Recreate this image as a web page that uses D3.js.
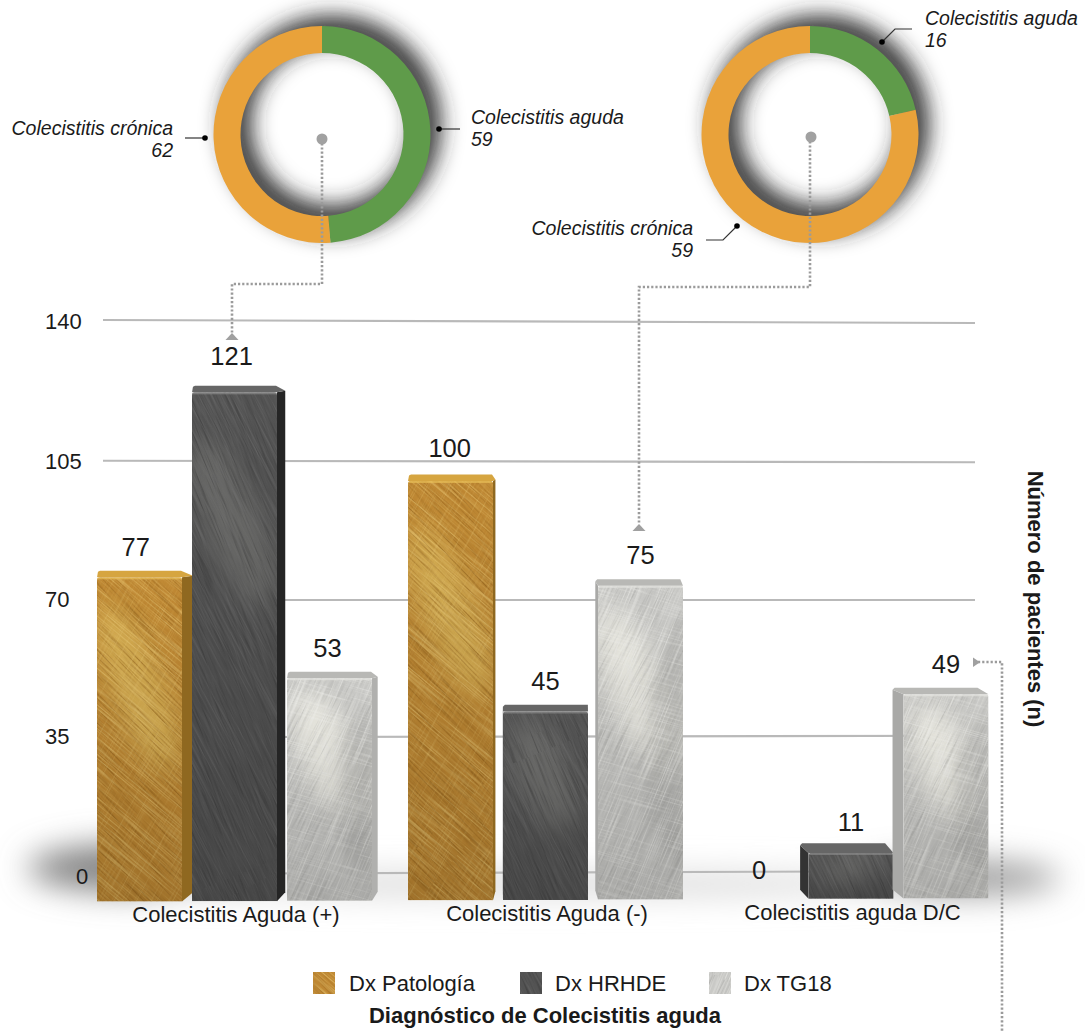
<!DOCTYPE html>
<html>
<head>
<meta charset="utf-8">
<script src="https://cdn.jsdelivr.net/npm/d3@7/dist/d3.min.js"></script>
<style>
  html, body { margin: 0; padding: 0; background: #fff; }
  svg { display: block; }
  text { font-family: "Liberation Sans", Arial, sans-serif; fill: #1a1a1a; }
</style>
</head>
<body>
<svg id="chart" width="1085" height="1032"></svg>
<script>
// Diagnostic groups and the patient counts per diagnostic method
const categories = ["Colecistitis Aguda (+)", "Colecistitis Aguda (-)", "Colecistitis aguda D/C"];
const seriesNames = ["Dx Patología", "Dx HRHDE", "Dx TG18"];
const patologia = [77, 100, 0];
const hrhde = [121, 45, 11];
const tg18 = [53, 75, 49];
const yTicks = [0, 35, 70, 105, 140];

// Split of the two source bars shown in the rings
const ringLabels = ["Colecistitis aguda", "Colecistitis crónica"];
const ringHrhde = [59, 62];
const ringTg18 = [16, 59];

const seriesValues = [patologia, hrhde, tg18];
const svg = d3.select("#chart");
const defs = svg.append("defs");

// ---- scales ----
const xCenter = d3.scaleOrdinal(categories, [234.5, 545.5, 851]);
const xOffset = d3.scalePoint().domain(seriesNames).range([-95, 95]);
const FRONT_W = 85;
// the back wall recedes a little, so its intervals shrink towards the floor
const yWall = d3.scaleLinear().domain(yTicks).range([872.5, 736.5, 600, 461.5, 321.5]);
const yFront = d3.scaleLinear().domain([0, 140]).range([900, 313.5]);
const labelGap = d3.scaleLinear().domain([11, 45, 75, 100, 121]).range([12, 14.5, 15, 17, 20.5]);

// slight camera perspective: horizontals converge towards the middle of the plot
const tilt = (x, y) => y - (y - 598) * 1.25e-5 * (x - 540);
const VANISH_X = 540, DEPTH_X = 0.027;
const topDepth = y => 6.5 + Math.max(0, y - 700) * 0.02;

// ---- textures ----
function brushFilter(id, baseFreq, seed, rgb, gain, bias) {
  const f = defs.append("filter").attr("id", id)
    .attr("x", 0).attr("y", 0).attr("width", 1).attr("height", 1)
    .attr("color-interpolation-filters", "sRGB");
  f.append("feTurbulence").attr("type", "fractalNoise").attr("baseFrequency", baseFreq)
    .attr("numOctaves", 4).attr("seed", seed).attr("result", "n");
  f.append("feColorMatrix").attr("in", "n").attr("type", "matrix")
    .attr("values", `0 0 0 0 ${rgb[0]}  0 0 0 0 ${rgb[1]}  0 0 0 0 ${rgb[2]}  ${gain} 0 0 0 ${bias}`);
}
function brushPattern(id, angle, filterId) {
  const p = defs.append("pattern").attr("id", id).attr("patternUnits", "userSpaceOnUse")
    .attr("width", 900).attr("height", 900).attr("patternTransform", `rotate(${angle})`);
  p.append("rect").attr("width", 900).attr("height", 900).attr("filter", `url(#${filterId})`);
}
const looks = [
  { base: "#bf8833", side: "#8f6820", top: "#d6a540", edge: "#e9c059", glow: "#e6c868", glowOp: 0.6,
    lo: "#8a5a16", hi: "#eccb78", a1: 40, a2: -62, ops: [0.55, 0.55, 0.3], band: null },
  { base: "#535353", side: "#252525", top: "#666666", edge: "#8c8c8c", glow: "#8a8a86", glowOp: 0.45,
    lo: "#333333", hi: "#767676", a1: 62, a2: 72, ops: [0.4, 0.4, 0.2], band: null },
  { base: "#c9c9c6", side: "#b0b0ae", top: "#b8b8b5", edge: "#e4e4e0", glow: "#f2f1e8", glowOp: 0.85,
    lo: "#a0a09d", hi: "#f5f5f1", a1: -68, a2: 16, ops: [0.4, 0.5, 0.35], band: "#aaaaa7" }
];
const hex2rgb = h => { const c = d3.rgb(h); return [c.r / 255, c.g / 255, c.b / 255]; };
looks.forEach((l, i) => {
  brushFilter(`hi${i}`, "0.01 0.75", 3 + i, hex2rgb(l.hi), 3.4, -1.65);
  brushFilter(`lo${i}`, "0.014 0.6", 11 + i, hex2rgb(l.lo), 3.2, -1.55);
  brushFilter(`x${i}`, "0.015 0.9", 21 + i, hex2rgb(l.hi), 3.4, -1.75);
  brushPattern(`texHi${i}`, l.a1, `hi${i}`);
  brushPattern(`texLo${i}`, l.a1 + 6, `lo${i}`);
  brushPattern(`texX${i}`, l.a2, `x${i}`);
});
const soft = (id, sd) => defs.append("filter").attr("id", id)
  .attr("x", "-50%").attr("y", "-200%").attr("width", "200%").attr("height", "500%")
  .append("feGaussianBlur").attr("stdDeviation", sd);
soft("blur16", 16); soft("blur11", 11); soft("blur12", 12); soft("blur7", 7);
const fade = defs.append("linearGradient").attr("id", "fade").attr("x1", 0).attr("x2", 0).attr("y1", 0).attr("y2", 1);
fade.append("stop").attr("offset", 0).attr("stop-color", "#000").attr("stop-opacity", 0);
fade.append("stop").attr("offset", 1).attr("stop-color", "#000").attr("stop-opacity", 0.16);

// ---- ground shadow ----
const ground = svg.append("g").attr("filter", "url(#blur16)");
ground.append("ellipse").attr("cx", 140).attr("cy", 868).attr("rx", 112).attr("ry", 24).attr("fill", "#808080");
ground.append("ellipse").attr("cx", 955).attr("cy", 878).attr("rx", 105).attr("ry", 17).attr("fill", "#9a9a9a");
ground.append("ellipse").attr("cx", 540).attr("cy", 884).attr("rx", 400).attr("ry", 11).attr("fill", "#d6d6d6");

// ---- gridlines and value axis ----
const gridLine = d3.line().x(d => d[0]).y(d => tilt(d[0], d[1]));
svg.append("g").selectAll("path").data(yTicks).join("path")
  .attr("d", t => gridLine([[103, yWall(t)], [975, yWall(t)]]))
  .attr("fill", "none").attr("stroke", "#b9b9b9").attr("stroke-width", 2.2);

svg.append("g").selectAll("text").data(yTicks).join("text")
  .attr("x", t => t === 0 ? 76 : 45)
  .attr("y", t => yWall(t) + (t === 0 ? 11 : 7))
  .attr("font-size", 22).text(t => t);

// ---- rings ----
const pie = d3.pie().sort(null);
const arc = d3.arc().innerRadius(81.5).outerRadius(108.5);
const ringColors = ["#5f9b4a", "#e9a23a"];
function drawRing(values, cx, cy) {
  const arcs = pie(values);
  const g = svg.append("g").attr("transform", `translate(${cx},${cy})`);
  // the ring's cast shadow falls to the upper right
  g.append("path").attr("d", arc({ startAngle: 0, endAngle: 2 * Math.PI }))
    .attr("fill", "#2a2a2a").attr("transform", "translate(10,-10)").attr("filter", "url(#blur11)");
  g.selectAll("path.seg").data(arcs).join("path").attr("class", "seg")
    .attr("d", arc).attr("fill", (d, i) => ringColors[i]);
}
drawRing(ringHrhde, 322, 134.5);
drawRing(ringTg18, 810, 134.5);

// ---- dotted connectors between rings and bars ----
const connectors = [
  [[322, 139], [322, 284], [232, 284], [232, 333]],
  [[810, 137], [810, 287], [639, 287], [639, 524]],
  [[978, 662], [1002, 662], [1002, 1032]]
];
const straight = d3.line();
svg.append("g").selectAll("path").data(connectors).join("path")
  .attr("d", straight).attr("fill", "none").attr("stroke", "#9b9b9b")
  .attr("stroke-width", 2.6).attr("stroke-dasharray", "2.2 2");
svg.append("g").attr("fill", "#a0a0a0").selectAll("path")
  .data(["M232 333l6.5 7h-13z", "M639 524l6.5 7h-13z", "M973 657.5l7 4.7l-7 4.7z"]).join("path").attr("d", d => d);
svg.append("circle").attr("cx", 322).attr("cy", 139).attr("r", 5.5).attr("fill", "#a1a1a1");
svg.append("circle").attr("cx", 811).attr("cy", 137).attr("r", 5.5).attr("fill", "#a1a1a1");

// ---- bars ----
function poly(pts) { return d3.line()(pts) + "Z"; }
const barsG = svg.append("g");
const labelData = [];
categories.forEach((cat, c) => {
  seriesNames.forEach((name, s) => {
    const v = seriesValues[s][c];
    const cx = xCenter(cat) + xOffset(name);
    const fl = cx - FRONT_W / 2, fr = cx + FRONT_W / 2;
    const dx = (VANISH_X - cx) * DEPTH_X;
    const yT = tilt(cx, yFront(v));
    const yB = tilt(cx, yFront(0));
    const dy = topDepth(yT);
    labelData.push({
      v,
      x: v === 0 ? cx + 3 : cx - Math.max(0, dx) * 0.35,
      y: v === 0 ? yB - 20 : yT - dy - labelGap(v)
    });
    if (v === 0) return;

    const l = looks[s];
    const g = barsG.append("g");
    const r = 3, ch = Math.abs(dx);
    const back = yT - dy;
    const front = `M${fl},${yB}L${fl},${yT + r}Q${fl},${yT} ${fl + r},${yT}L${fr - r},${yT}Q${fr},${yT} ${fr},${yT + r}L${fr},${yB}Z`;
    if (dx >= 0) {
      // side face on the right, top face chamfered down towards it
      g.append("path").attr("d", poly([[fr, yT], [fr + dx, back + 5], [fr + dx, yB - 9], [fr, yB]])).attr("fill", l.side);
      g.append("path").attr("d", poly([[fl, yT], [fl + 1, back + 1], [fl + 3, back], [fr - 1, back], [fr + dx, back + 5], [fr, yT]])).attr("fill", l.top);
    } else {
      const sideFill = s === 1 ? "#333" : "#a9a9a7";
      g.append("path").attr("d", poly([[fl, yT], [fl + dx, back + 2], [fl + dx, yB - 9], [fl, yB]])).attr("fill", sideFill);
      g.append("path").attr("d", poly([[fl, yT], [fl + dx, back + 2], [fl + dx + 2, back], [fr - ch, back], [fr, yT]])).attr("fill", l.top);
    }

    const clipId = `clip${c}${s}`;
    defs.append("clipPath").attr("id", clipId).append("path").attr("d", front);
    const f = g.append("g").attr("clip-path", `url(#${clipId})`);
    const fw = fr - fl, fh = yB - yT;
    f.append("rect").attr("x", fl).attr("y", yT).attr("width", fw).attr("height", fh).attr("fill", l.base);
    // broad sheen that runs across the brushed surface
    const gx = fl + fw * 0.48, gy = yT + Math.min(fh * 0.34, 130);
    f.append("ellipse").attr("cx", gx).attr("cy", gy)
      .attr("rx", fw * 0.32).attr("ry", Math.min(fh * 0.3, 90))
      .attr("transform", `rotate(-22 ${gx} ${gy})`)
      .attr("fill", l.glow).attr("opacity", l.glowOp).attr("filter", "url(#blur12)");
    if (l.band) {
      // duller wedge in the upper-right corner of the pale bars
      f.append("path").attr("d", poly([[fr, yT + fh * 0.1], [fl + fw * 0.62, yT + fh * 0.3], [fl + fw * 0.6, yT + fh * 0.75], [fr, yT + fh * 0.92]]))
        .attr("fill", l.band).attr("opacity", 0.55).attr("filter", "url(#blur7)");
    }
    ["texLo", "texHi", "texX"].forEach((t, k) => {
      f.append("rect").attr("x", fl).attr("y", yT).attr("width", fw).attr("height", fh)
        .attr("fill", `url(#${t}${s})`).attr("opacity", l.ops[k]);
    });
    f.append("rect").attr("x", fl).attr("y", yT).attr("width", fw).attr("height", fh).attr("fill", "url(#fade)");
    // bevel along the top of the front face
    f.append("rect").attr("x", fl).attr("y", yT).attr("width", fw).attr("height", 2).attr("fill", l.edge).attr("opacity", 0.7);
  });
});

// value labels
svg.append("g").selectAll("text").data(labelData).join("text")
  .attr("x", d => d.x).attr("y", d => d.y).attr("text-anchor", "middle")
  .attr("font-size", 25.5).text(d => d.v);

// ---- category labels ----
svg.append("g").selectAll("text").data(categories).join("text")
  .attr("x", d => xCenter(d) + 1.5)
  .attr("y", d => tilt(xCenter(d), 921))
  .attr("text-anchor", "middle").attr("font-size", 22).text(d => d);

// ---- legend ----
const legendX = [313, 520, 709];
const legend = svg.append("g").selectAll("g").data(seriesNames).join("g")
  .attr("transform", (d, i) => `translate(${legendX[i]},972)`);
legend.append("rect").attr("width", 22).attr("height", 22).attr("fill", (d, i) => looks[i].base);
legend.append("rect").attr("width", 22).attr("height", 22).attr("fill", (d, i) => `url(#texLo${i})`).attr("opacity", 0.6);
legend.append("rect").attr("width", 22).attr("height", 22).attr("fill", (d, i) => `url(#texHi${i})`).attr("opacity", 0.6);
legend.append("text").attr("x", (d, i) => [36, 35, 35][i]).attr("y", 19).attr("font-size", 22).text(d => d);

// ---- titles ----
svg.append("text").attr("x", 545).attr("y", 1023).attr("text-anchor", "middle")
  .attr("font-size", 22).attr("font-weight", "bold").text("Diagnóstico de Colecistitis aguda");
svg.append("text").attr("transform", "translate(1028,599) rotate(90)").attr("text-anchor", "middle")
  .attr("font-size", 22).attr("font-weight", "bold").text("Número de pacientes (n)");

// ---- ring callouts ----
const callouts = [
  { name: ringLabels[1], value: ringHrhde[1], x: 173, y: 135, anchor: "end", line: [[185, 138], [205, 138]] },
  { name: ringLabels[0], value: ringHrhde[0], x: 471, y: 124, anchor: "start", line: [[460, 129], [439, 129]] },
  { name: ringLabels[1], value: ringTg18[1], x: 693, y: 235, anchor: "end", line: [[706, 240], [723, 240], [737, 226]] },
  { name: ringLabels[0], value: ringTg18[0], x: 925, y: 25, anchor: "start", line: [[912, 29], [895, 29], [882, 42]] }
];
const co = svg.append("g").selectAll("g").data(callouts).join("g");
co.append("path").attr("d", d => d3.line()(d.line)).attr("fill", "none").attr("stroke", "#333").attr("stroke-width", 1.2);
co.append("circle").attr("cx", d => d.line[d.line.length - 1][0]).attr("cy", d => d.line[d.line.length - 1][1]).attr("r", 2.8).attr("fill", "#000");
co.append("text").attr("x", d => d.x).attr("y", d => d.y).attr("text-anchor", d => d.anchor)
  .attr("font-size", 19.5).attr("font-style", "italic").text(d => d.name);
co.append("text").attr("x", d => d.x).attr("y", d => d.y + 21.5).attr("text-anchor", d => d.anchor)
  .attr("font-size", 19.5).attr("font-style", "italic").text(d => d.value);
</script>
</body>
</html>
